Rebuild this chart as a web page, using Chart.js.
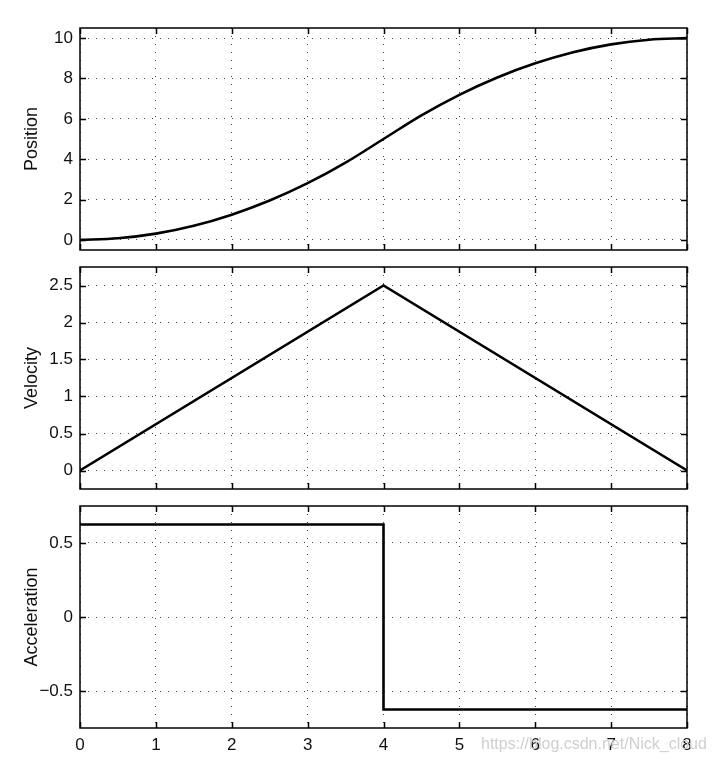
<!DOCTYPE html>
<html>
<head>
<meta charset="utf-8">
<script src="https://cdn.jsdelivr.net/npm/chart.js@4/dist/chart.umd.min.js"></script>
<style>
  html, body { margin: 0; padding: 0; background: #fff; }
  #wrap { position: relative; width: 714px; height: 765px; overflow: hidden; }
  canvas { position: absolute; left: 0; }
  #wm { position: absolute; left: 481px; top: 735px; font: 16px "Liberation Sans", Arial, sans-serif; color: #cfcfcf; white-space: nowrap; z-index: 5; }
</style>
</head>
<body>
<div id="wrap">
  <canvas id="c1" width="714" height="256" style="top:0px"></canvas>
  <canvas id="c2" width="714" height="240" style="top:258px"></canvas>
  <canvas id="c3" width="714" height="267" style="top:498px"></canvas>
  <div id="wm">https://blog.csdn.net/Nick_cloud</div>
</div>
<script>
// ---- data ----
const timeTicks = [0, 1, 2, 3, 4, 5, 6, 7, 8];

const positionTime = [0, 0.5, 1, 1.5, 2, 2.5, 3, 3.5, 4, 4.5, 5, 5.5, 6, 6.5, 7, 7.5, 8];
const positionValues = [0, 0.08, 0.31, 0.70, 1.25, 1.95, 2.81, 3.83, 5.0, 6.17, 7.19, 8.05, 8.75, 9.30, 9.69, 9.92, 10];
const positionTicks = [0, 2, 4, 6, 8, 10];

const velocityTime = [0, 4, 8];
const velocityValues = [0, 2.5, 0];
const velocityTicks = [0, 0.5, 1, 1.5, 2, 2.5];

const accelTime = [0, 4, 4, 8];
const accelValues = [0.625, 0.625, -0.625, -0.625];
const accelTicks = [-0.5, 0, 0.5];

// ---- helpers ----
const FONT = '"Liberation Sans", Arial, Helvetica, sans-serif';
Chart.defaults.font.family = FONT;
Chart.defaults.color = '#111';

const frame = {
  id: 'frame',
  afterDatasetsDraw(chart) {
    const { ctx, chartArea: a, scales: { x, y } } = chart;
    ctx.save();
    ctx.strokeStyle = '#000';
    ctx.lineWidth = 1.5;
    ctx.setLineDash([]);
    ctx.beginPath();
    const L = 6;
    x.ticks.forEach(t => {
      const px = Math.round(x.getPixelForValue(t.value)) + 0.5;
      ctx.moveTo(px, a.bottom); ctx.lineTo(px, a.bottom - L);
      ctx.moveTo(px, a.top); ctx.lineTo(px, a.top + L);
    });
    y.ticks.forEach(t => {
      const py = Math.round(y.getPixelForValue(t.value)) + 0.5;
      ctx.moveTo(a.left, py); ctx.lineTo(a.left + L, py);
      ctx.moveTo(a.right, py); ctx.lineTo(a.right - L, py);
    });
    ctx.stroke();
    ctx.strokeRect(a.left, a.top, a.right - a.left, a.bottom - a.top);
    ctx.restore();
  }
};

function fmt(v) {
  const s = String(v);
  return v < 0 ? '\u2212' + s.slice(1) : s;
}

function zeroPad(s) { s.paddingTop = 0; s.paddingBottom = 0; s.paddingLeft = 0; s.paddingRight = 0; }

function makeChart(id, xs, ys, yTicks, yMin, yMax, title, showX, padTop, padBottom, smooth) {
  const pts = xs.map((x, i) => ({ x: x, y: ys[i] }));
  return new Chart(document.getElementById(id), {
    type: 'line',
    data: {
      datasets: [{
        data: pts,
        borderColor: '#000',
        borderWidth: 2.6,
        pointRadius: 0,
        fill: false,
        cubicInterpolationMode: smooth ? 'monotone' : 'default',
        tension: 0
      }]
    },
    options: {
      responsive: false,
      animation: false,
      events: [],
      layout: { padding: { top: padTop, bottom: padBottom, left: 0, right: 27 } },
      plugins: { legend: { display: false }, tooltip: { enabled: false } },
      scales: {
        x: {
          type: 'linear',
          min: 0, max: 8,
          afterBuildTicks: s => { s.ticks = timeTicks.map(v => ({ value: v })); },
          afterFit: s => { s.height = showX ? 37 : 0; zeroPad(s); },
          grid: { color: '#444', lineWidth: 1, drawTicks: false },
          border: { display: false, dash: [1, 7] },
          ticks: { display: showX, padding: 7, font: { size: 17 }, color: '#111', maxRotation: 0 }
        },
        y: {
          min: yMin, max: yMax,
          afterBuildTicks: s => { s.ticks = yTicks.map(v => ({ value: v })); },
          afterFit: s => { s.width = 80; zeroPad(s); },
          grid: { color: '#444', lineWidth: 1, drawTicks: false },
          border: { display: false, dash: [1, 7] },
          ticks: { padding: 7, font: { size: 17 }, color: '#111', callback: v => fmt(v) },
          title: { display: true, text: title, font: { size: 18 }, color: '#111', padding: { top: 21, bottom: 0 } }
        }
      }
    },
    plugins: [frame]
  });
}

makeChart('c1', positionTime, positionValues, positionTicks, -0.5, 10.5, 'Position', false, 28, 6, true);
makeChart('c2', velocityTime, velocityValues, velocityTicks, -0.25, 2.75, 'Velocity', false, 9, 9, false);
makeChart('c3', accelTime, accelValues, accelTicks, -0.75, 0.75, 'Acceleration', true, 8, 0, false);
</script>
</body>
</html>
